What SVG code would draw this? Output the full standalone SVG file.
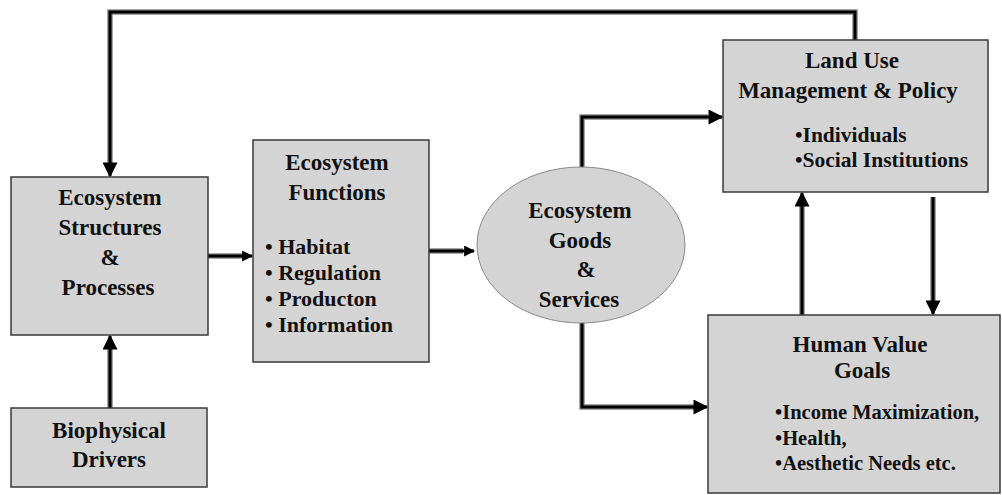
<svg xmlns="http://www.w3.org/2000/svg" width="1002" height="495" viewBox="0 0 1002 495">
<style>
.box{fill:#d4d4d4;stroke:#3a3a3a;stroke-width:1.5}
.ell{fill:#d4d4d4;stroke:#888;stroke-width:1}
text{font-family:"Liberation Serif","Times New Roman",serif;font-weight:bold;font-size:23px;fill:#111}
.c{text-anchor:middle}
.b1{font-size:22px}
.b2{font-size:21.5px}
.b3{font-size:20.5px}
.under{fill:none;stroke:#8a8a8a;stroke-width:5.5;stroke-linejoin:miter}
.line{fill:none;stroke:#000;stroke-width:3;stroke-linejoin:miter}
</style>
<defs>
<marker id="ah" viewBox="0 0 10 10" refX="9" refY="5" markerWidth="16" markerHeight="15" markerUnits="userSpaceOnUse" orient="auto">
<path d="M0,0 L10,5 L0,10 z" fill="#000"/>
</marker>
<marker id="ahs" viewBox="0 0 10 10" refX="9" refY="5" markerWidth="13" markerHeight="11" markerUnits="userSpaceOnUse" orient="auto">
<path d="M0,0 L10,5 L0,10 z" fill="#000"/>
</marker>
</defs>
<g id="connectors">
<path class="under" d="M855,40 L855,12 L110,12 L110,165"/>
<path class="line" d="M855,40 L855,12 L110,12 L110,176" marker-end="url(#ah)"/>
<path class="under" d="M110,408 L110,348"/>
<path class="line" d="M110,408 L110,336" marker-end="url(#ah)"/>
<path class="under" d="M208,256 L242,256"/>
<path class="line" d="M208,256 L252,256" marker-end="url(#ahs)"/>
<path class="under" d="M429,251 L463,251"/>
<path class="line" d="M429,251 L474,251" marker-end="url(#ahs)"/>
<path class="under" d="M582,168 L582,117 L708,117"/>
<path class="line" d="M582,168 L582,117 L722,117" marker-end="url(#ah)"/>
<path class="under" d="M582,323 L582,407 L694,407"/>
<path class="line" d="M582,323 L582,407 L707,407" marker-end="url(#ah)"/>
<path class="under" d="M802,316 L802,206"/>
<path class="line" d="M802,316 L802,193" marker-end="url(#ah)"/>
<path class="under" d="M933,197 L933,302"/>
<path class="line" d="M933,197 L933,314" marker-end="url(#ah)"/>
</g>
<g id="structures">
<rect class="box" x="11" y="177" width="197" height="158"/>
<text class="c" x="110" y="205">Ecosystem</text>
<text class="c" x="110" y="235">Structures</text>
<text class="c" x="110" y="265">&amp;</text>
<text class="c" x="108" y="295">Processes</text>
</g>
<g id="drivers">
<rect class="box" x="11" y="408" width="196" height="79"/>
<text class="c" x="109" y="438">Biophysical</text>
<text class="c" x="109" y="467">Drivers</text>
</g>
<g id="functions">
<rect class="box" x="253" y="140" width="176" height="222"/>
<text class="c" x="337" y="170">Ecosystem</text>
<text class="c" x="337" y="200">Functions</text>
<text class="b1" x="265" y="254">• Habitat</text>
<text class="b1" x="265" y="280">• Regulation</text>
<text class="b1" x="265" y="306">• Producton</text>
<text class="b1" x="265" y="332">• Information</text>
</g>
<g id="goods">
<ellipse class="ell" cx="581" cy="245" rx="104" ry="78"/>
<text class="c" x="580" y="218">Ecosystem</text>
<text class="c" x="580" y="248">Goods</text>
<text class="c" x="586" y="277">&amp;</text>
<text class="c" x="579" y="307">Services</text>
</g>
<g id="landuse">
<rect class="box" x="723" y="40" width="265" height="152"/>
<text class="c" x="852" y="68">Land Use</text>
<text class="c" x="848" y="98">Management &amp; Policy</text>
<text class="b2" x="795" y="142">•Individuals</text>
<text class="b2" x="795" y="167">•Social Institutions</text>
</g>
<g id="humanvalue">
<rect class="box" x="708" y="315" width="292" height="178"/>
<text class="c" x="860" y="352">Human Value</text>
<text class="c" x="862" y="378">Goals</text>
<text class="b3" x="775" y="419">•Income Maximization,</text>
<text class="b3" x="775" y="445">•Health,</text>
<text class="b3" x="775" y="470">•Aesthetic Needs etc.</text>
</g>
</svg>
